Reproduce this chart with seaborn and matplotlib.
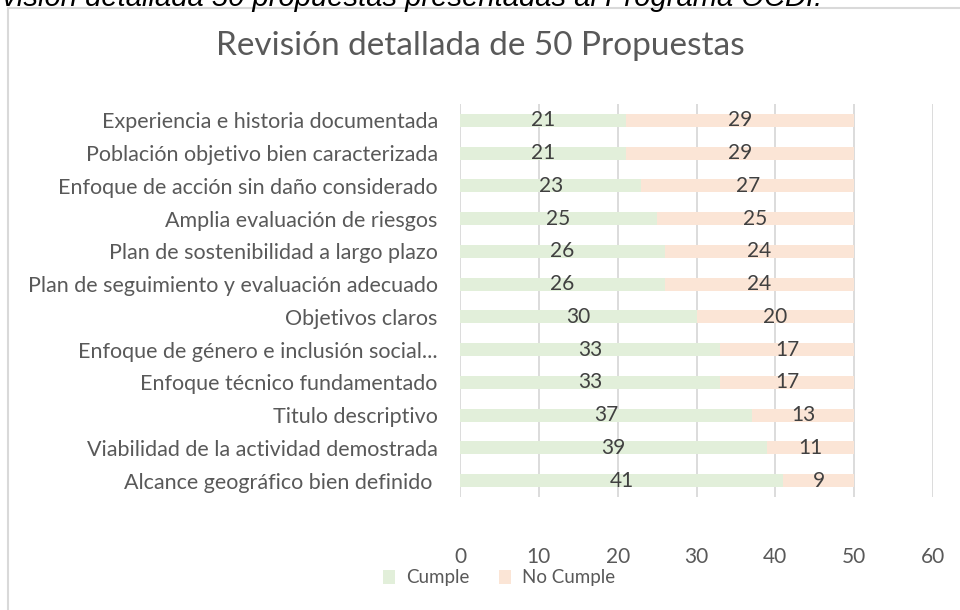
import numpy as np
import pandas as pd
import matplotlib
matplotlib.use("Agg")
import matplotlib.pyplot as plt
import seaborn as sns
from matplotlib.patches import Rectangle, Patch

# Data
criterios = [
    "Experiencia e historia documentada",
    "Población objetivo bien caracterizada",
    "Enfoque de acción sin daño considerado",
    "Amplia evaluación de riesgos",
    "Plan de sostenibilidad a largo plazo",
    "Plan de seguimiento y evaluación adecuado",
    "Objetivos claros",
    "Enfoque de género e inclusión social...",
    "Enfoque técnico fundamentado",
    "Titulo descriptivo",
    "Viabilidad de la actividad demostrada",
    "Alcance geográfico bien definido ",
]
cumple = [21, 21, 23, 25, 26, 26, 30, 33, 33, 37, 39, 41]
no_cumple = [29, 29, 27, 25, 24, 24, 20, 17, 17, 13, 11, 9]

df = pd.DataFrame({"criterio": criterios, "Cumple": cumple, "No Cumple": no_cumple})
df["total"] = df["Cumple"] + df["No Cumple"]

verde = "#E2EFDA"
naranja = "#FBE5D6"
gris_txt = "#595959"
gris_num = "#404040"

sns.set_theme(style="white")
plt.rcParams["font.family"] = ["Lato", "DejaVu Sans"]

fig = plt.figure(figsize=(9.6, 6.1), dpi=100)
ax = fig.add_axes([460 / 960, 1 - 497 / 610, 473 / 960, 393 / 610])

# stacked: total in orange, cumple on top in green
sns.barplot(data=df, x="total", y="criterio", color=naranja, width=0.4,
            saturation=1, orient="h", ax=ax)
sns.barplot(data=df, x="Cumple", y="criterio", color=verde, width=0.4,
            saturation=1, orient="h", ax=ax)
for p in ax.patches:
    p.set_zorder(3)
    p.set_linewidth(0)

for i, (c, n) in enumerate(zip(cumple, no_cumple)):
    ax.text(c / 2, i, str(c), ha="center", va="center", fontsize=15,
            color=gris_num, zorder=4)
    ax.text(c + n / 2, i, str(n), ha="center", va="center", fontsize=15,
            color=gris_num, zorder=4)

ax.set_xlim(0, 60)
ax.set_ylim(11.5, -0.5)
ax.set_xticks(range(0, 61, 10))
ax.xaxis.grid(True, color="#D9D9D9", linewidth=1.3)
ax.set_axisbelow(True)
for s in ax.spines.values():
    s.set_visible(False)
ax.set_xlabel("")
ax.set_ylabel("")
ax.tick_params(axis="x", length=0, pad=36, labelsize=15, labelcolor=gris_txt)
ax.tick_params(axis="y", length=0, pad=16, labelsize=15.5, labelcolor=gris_txt)

# chart frame
fig.patches.append(Rectangle((8 / 960, -0.1), 1.2, 1 - 8 / 610 + 0.1,
                             transform=fig.transFigure, fill=False,
                             edgecolor="#D9D9D9", linewidth=1.5))

fig.text(0.5, 1 - 46 / 610, "Revisión detallada de 50 Propuestas",
         ha="center", va="center", fontsize=24, color=gris_txt)

# clipped caption from the surrounding document
fig.text(822 / 960, 1 - 6 / 610,
         "Revisión detallada 50 propuestas presentadas al Programa OCDI.",
         ha="right", va="baseline", fontsize=21, style="italic",
         family="Liberation Sans", color="black")

handles = [Patch(facecolor=verde, edgecolor="none"),
           Patch(facecolor=naranja, edgecolor="none")]
fig.legend(handles, ["Cumple", "No Cumple"], loc="center",
           bbox_to_anchor=(0.52, 1 - 578 / 610), ncol=2, frameon=False,
           fontsize=13.5, labelcolor=gris_txt, handlelength=0.6,
           handleheight=0.8, columnspacing=1.6, handletextpad=0.6)

fig.savefig("out.png", dpi=100)
